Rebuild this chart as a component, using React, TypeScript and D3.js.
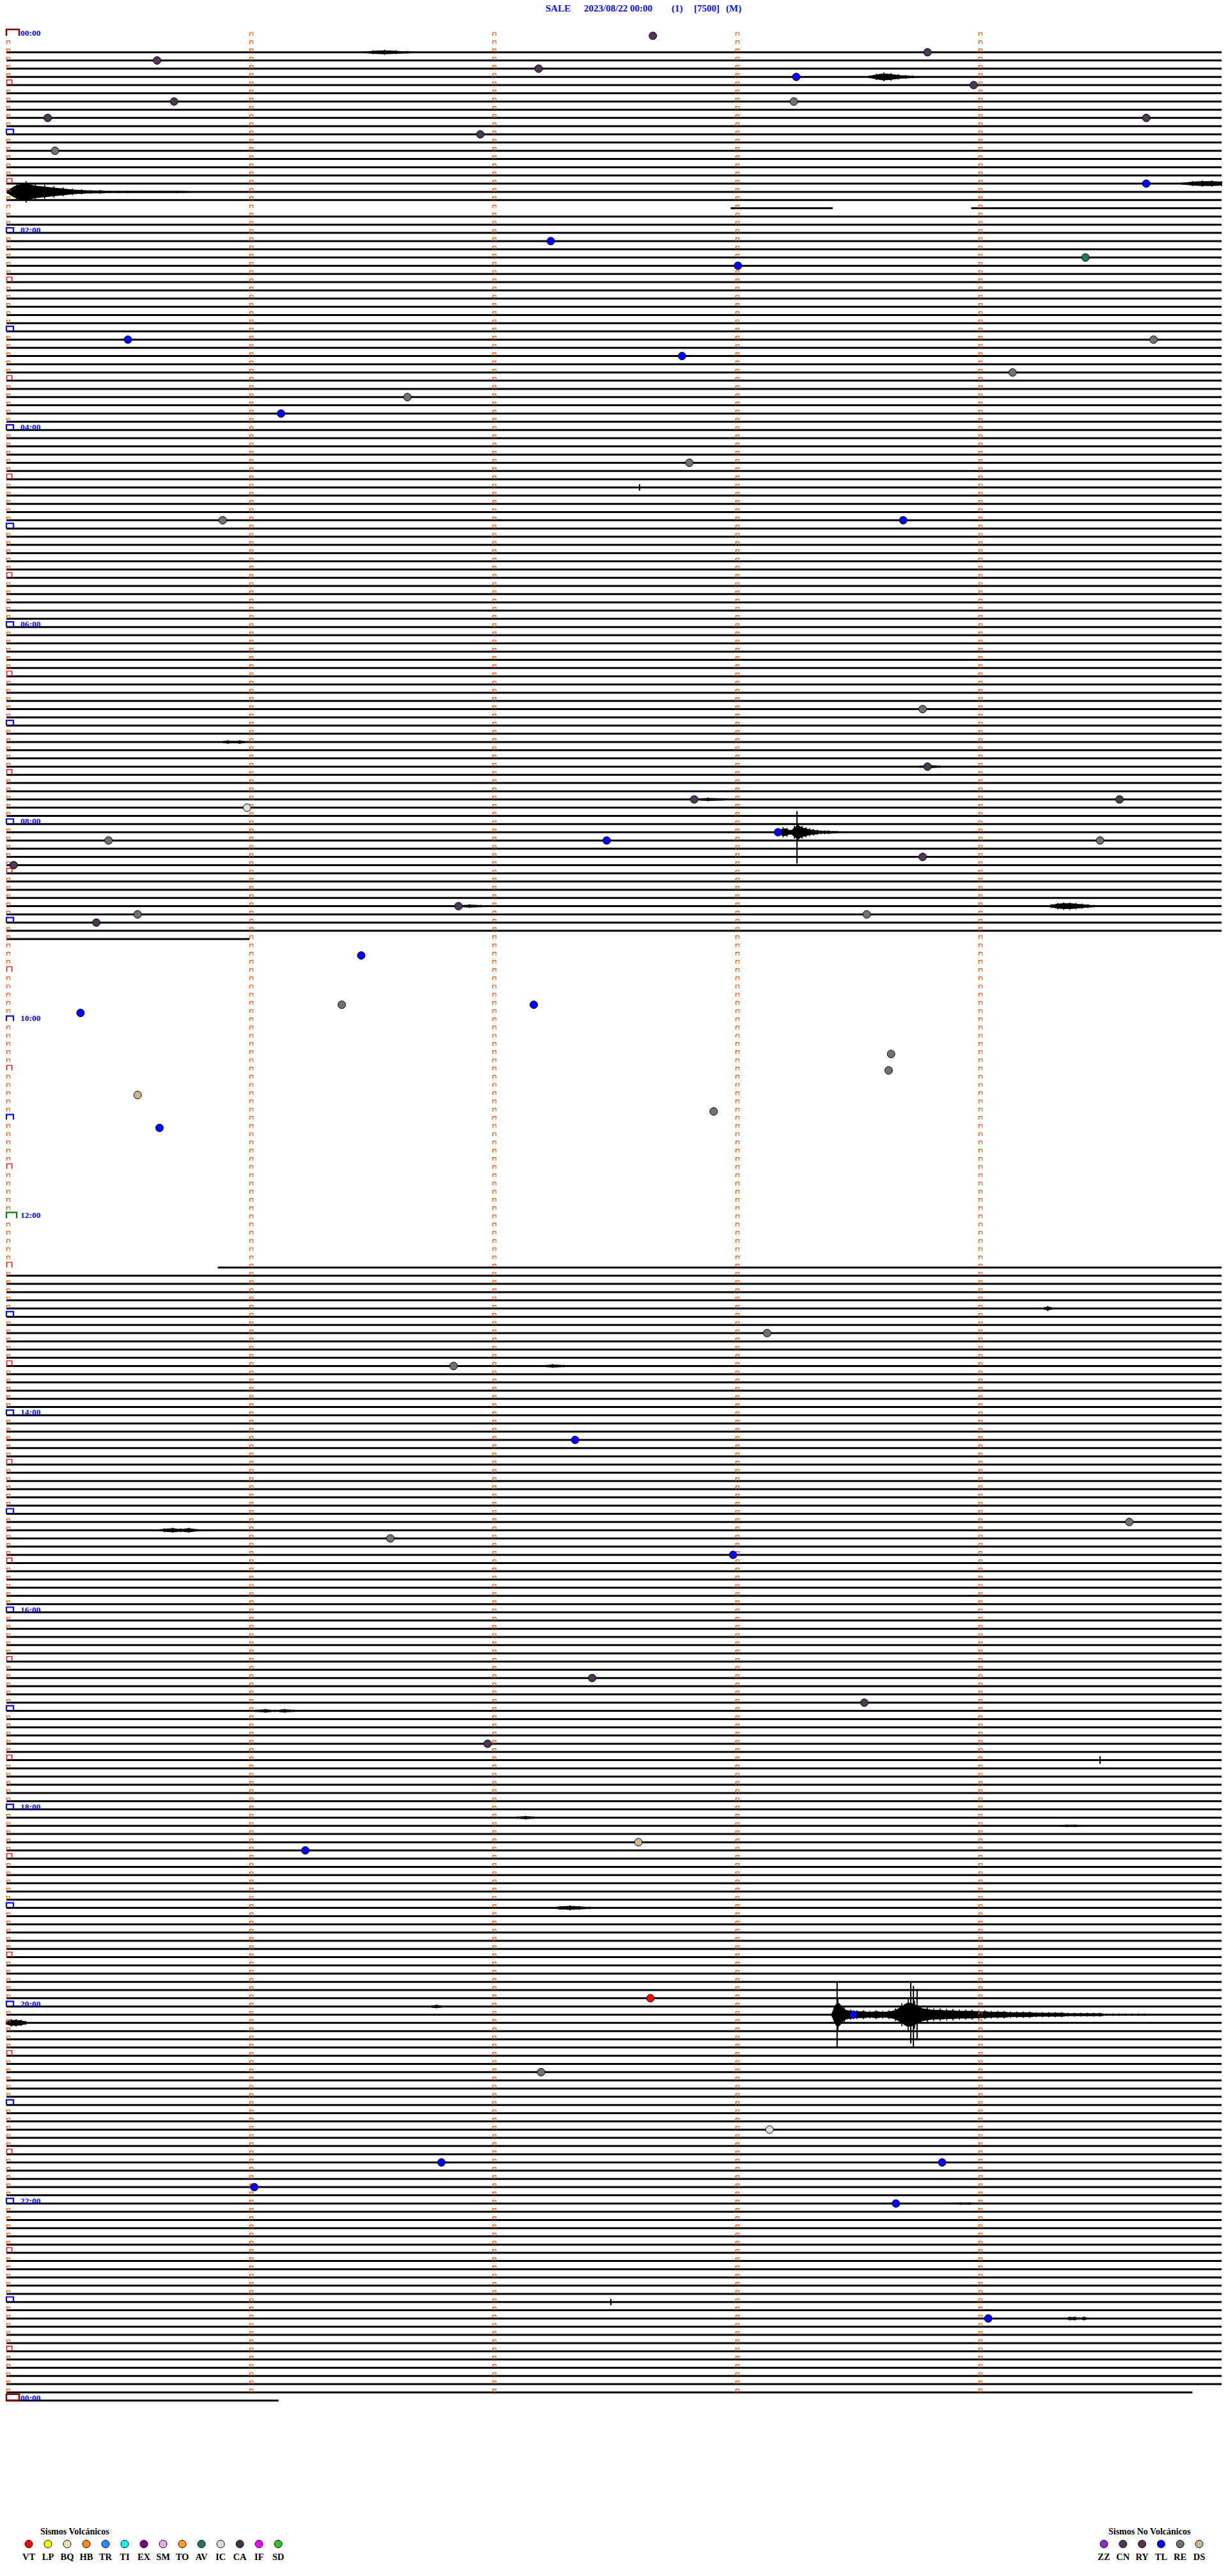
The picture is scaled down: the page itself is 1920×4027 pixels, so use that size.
import React from 'react';
import * as d3 from 'd3';

const W = 1920;
const H = 4027;

// ---- header ----
const titleParts: [string, number][] = [
  ['SALE', 853],
  ['2023/08/22 00:00', 913],
  ['(1)', 1050],
  ['[7500]', 1085],
  ['(M)', 1135],
];

// ---- time axis ----
const MINUTES_PER_LINE = 5;
const LINE_COUNT = 289; // 00:00 .. 24:00 in 5-minute rows
const minuteTicks = [0, 1, 2, 3, 4];
const hourLabels = ['00:00', '02:00', '04:00', '06:00', '08:00', '10:00', '12:00', '14:00', '16:00', '18:00', '20:00', '22:00', '00:00'];

// data availability, absolute minutes from 00:00
const dataSegments: [number, number][] = [
  [10, 105],
  [107.98, 108.4],
  [108.97, 551],
  [750.87, 1439.88],
  [1440, 1441.12],
];

// signal bursts: [row, startMinute, endMinute, envelope amplitudes (px)]
const bursts: [number, number, number, number[]][] = [
  [2, 1.46, 1.7, [1, 3, 4, 3, 2, 1]],
  [5, 3.55, 3.76, [2, 5, 7, 6, 4, 3, 2, 1]],
  [18, 4.84, 5.0, [2, 4, 5, 5, 4]],
  [19, 0.005, 0.5, [3, 14, 17, 13, 11, 9, 7, 5, 4, 3, 3, 2, 2, 2]],
  [19, 0.5, 1.0, [2, 2, 2, 1, 1, 1]],
  [86, 0.884, 0.987, [1, 3, 2, 3, 1]],
  [89, 3.76, 3.84, [2, 3, 2]],
  [93, 2.83, 3.0, [1, 3, 2, 1]],
  [97, 3.18, 3.43, [2, 8, 7, 4, 10, 14, 10, 8, 6, 5, 4, 3, 3, 3, 2, 2, 1]],
  [106, 4.276, 4.5, [1, 3, 5, 6, 6, 5, 4, 3, 2, 1]],
  [106, 1.858, 2.0, [1, 3, 2, 1]],
  [155, 4.27, 4.3, [2, 4, 2]],
  [162, 2.2, 2.34, [1, 3, 2, 1]],
  [182, 0.616, 0.818, [1, 3, 4, 3, 4, 2, 1]],
  [204, 0.987, 1.224, [1, 2, 3, 2, 3, 2, 1]],
  [217, 2.07, 2.17, [1, 2, 3, 2]],
  [218, 4.33, 4.43, [1, 2, 2, 1]],
  [228, 2.237, 2.44, [1, 3, 4, 3, 2, 1]],
  [240, 1.75, 1.79, [2, 3, 2]],
  [241, 3.395, 4.71, [2, 25, 12, 8, 7, 7, 6, 7, 6, 7, 10, 18, 25, 22, 14, 12, 10, 10, 9, 9, 8, 8, 8, 7, 7, 6, 6, 6, 5, 5, 5, 5, 4, 4, 4, 4, 4, 3, 3, 3, 3, 3, 3, 2, 2, 2, 2, 2, 2, 2, 1]],
  [242, 0.0, 0.08, [3, 6, 6, 5, 3]],
  [264, 3.89, 4.0, [1, 2, 2, 1]],
  [278, 4.355, 4.455, [1, 3, 3, 2, 3, 1]],
];

// single vertical spikes: [row, minute, up (px), down (px)]
const spikes: [number, number, number, number][] = [
  [55, 2.605, 5, 5],
  [97, 3.253, 33, 49],
  [210, 4.5, 6, 6],
  [241, 3.418, 50, 52],
  [241, 3.721, 52, 45],
  [241, 3.732, 45, 50],
  [241, 3.747, 40, 40],
  [276, 2.487, 5, 5],
];

// ---- legend ----
const volcanicTypes = ['VT', 'LP', 'BQ', 'HB', 'TR', 'TI', 'EX', 'SM', 'TO', 'AV', 'IC', 'CA', 'IF', 'SD'];
const volcanicColors = ['#ff0000', '#ffff00', '#f0e2a8', '#ff8a1a', '#2a8cff', '#00ffff', '#800080', '#f0a8e0', '#ffa020', '#1e7a5a', '#dcdcdc', '#4a2f4e', '#ff00ff', '#30c030'];
const nonVolcanicTypes = ['ZZ', 'CN', 'RY', 'TL', 'RE', 'DS'];
const nonVolcanicColors = ['#8a2be2', '#4e3656', '#5a3358', '#0000ff', '#6f736f', '#d2b48c'];

// ---- classified events: [row, minute, type] ----
const events: [number, number, string][] = [
  [0, 2.66, 'CN'], [3, 0.62, 'CN'], [2, 3.79, 'CN'], [4, 2.19, 'CN'], [5, 3.25, 'TL'],
  [6, 3.98, 'CN'], [8, 0.69, 'CN'], [8, 3.24, 'RE'], [10, 0.17, 'CN'], [10, 4.69, 'CN'],
  [12, 1.95, 'CN'], [14, 0.2, 'RE'], [18, 4.69, 'TL'], [25, 2.24, 'TL'], [28, 3.01, 'TL'],
  [27, 4.44, 'AV'], [37, 0.5, 'TL'], [37, 4.72, 'RE'], [39, 2.78, 'TL'], [41, 4.14, 'RE'],
  [44, 1.65, 'RE'], [46, 1.13, 'TL'], [52, 2.81, 'RE'], [59, 3.69, 'TL'], [59, 0.89, 'RE'],
  [82, 3.77, 'RE'], [89, 3.79, 'CN'], [94, 0.99, 'IC'], [93, 2.83, 'CN'], [93, 4.58, 'CN'],
  [98, 0.42, 'RE'], [98, 2.47, 'TL'], [97, 3.175, 'TL'], [98, 4.5, 'RE'], [100, 3.77, 'CN'],
  [101, 0.03, 'CN'], [106, 1.86, 'CN'], [107, 0.54, 'RE'], [107, 3.54, 'RE'], [108, 0.37, 'CN'],
  [112, 1.46, 'TL'], [118, 1.38, 'RE'], [118, 2.17, 'TL'], [119, 0.305, 'TL'], [124, 3.64, 'RE'],
  [126, 3.63, 'RE'], [129, 0.54, 'DS'], [131, 2.91, 'RE'], [133, 0.63, 'TL'], [158, 3.13, 'RE'],
  [162, 1.84, 'RE'], [171, 2.34, 'TL'], [181, 4.62, 'RE'], [183, 1.58, 'RE'], [185, 2.99, 'TL'],
  [200, 2.41, 'CN'], [203, 3.53, 'CN'], [208, 1.98, 'CN'], [220, 2.6, 'DS'], [221, 1.23, 'TL'],
  [239, 2.65, 'VT'], [241, 3.485, 'TL'], [248, 2.2, 'RE'], [255, 3.14, 'IC'], [259, 1.79, 'TL'],
  [259, 3.85, 'TL'], [262, 1.02, 'TL'], [264, 3.66, 'TL'], [278, 4.04, 'TL'],
];

const SERIF = '"Liberation Serif", "Times New Roman", serif';
const BLUE = '#0a0aff';
const ORANGE = '#ff5000';

export default function App() {
  const xs = d3.scaleLinear().domain([0, MINUTES_PER_LINE]).range([10, 1910]);
  const ys = d3.scaleLinear().domain([0, LINE_COUNT - 1]).range([56, 56 + (LINE_COUNT - 1) * 12.836]);

  const colorOf = new Map<string, string>();
  volcanicTypes.forEach((t, i) => colorOf.set(t, volcanicColors[i]));
  nonVolcanicTypes.forEach((t, i) => colorOf.set(t, nonVolcanicColors[i]));

  const rows = d3.range(LINE_COUNT);

  // trace pieces per row
  const tracePieces: { row: number; a: number; b: number }[] = [];
  rows.forEach((r) => {
    const t0 = r * MINUTES_PER_LINE;
    const t1 = t0 + MINUTES_PER_LINE;
    dataSegments.forEach(([s, e]) => {
      const a = Math.max(s, t0);
      const b = Math.min(e, t1);
      if (a < b) tracePieces.push({ row: r, a: a - t0, b: b - t0 });
    });
  });

  const bracket = (x0: number, x1: number, yb: number, h: number) =>
    `M${x0},${yb} V${yb - h} H${x1} V${yb}`;

  const markers: JSX.Element[] = [];
  rows.forEach((r) => {
    const y = ys(r);
    const last = r === LINE_COUNT - 1;
    minuteTicks.forEach((k) => {
      if (last && k > 0) return;
      const x = xs(k);
      if (k === 0 && r % 12 === 0) {
        if (r === 0) {
          markers.push(<path key={`m${r}-${k}`} d={bracket(x, x + 20, y, 10)} fill="none" stroke="#800000" strokeWidth={2.5} />);
        } else if (last) {
          markers.push(<rect key={`m${r}-${k}`} x={x} y={y - 10} width={20} height={10} fill="none" stroke="#800000" strokeWidth={2.5} />);
        } else if (r === 144) {
          markers.push(<path key={`m${r}-${k}`} d={bracket(x, x + 16, y, 9)} fill="none" stroke="#008000" strokeWidth={2.2} />);
        } else {
          markers.push(<path key={`m${r}-${k}`} d={bracket(x, x + 11, y, 8)} fill="none" stroke={BLUE} strokeWidth={2.2} />);
        }
      } else if (k === 0 && r % 12 === 6) {
        markers.push(<path key={`m${r}-${k}`} d={bracket(x + 0.5, x + 8.5, y, 8)} fill="none" stroke="#ff0000" strokeWidth={1.3} />);
      } else {
        markers.push(<path key={`m${r}-${k}`} d={bracket(x + 0.5, x + 5.5, y, 5)} fill="none" stroke={ORANGE} strokeWidth={1.2} />);
      }
    });
  });

  // bursts: a filled envelope core plus full-amplitude excursions at each sample
  const burstMarks = bursts.map(([r, m0, m1, env], i) => {
    const y = ys(r);
    const step = env.length > 1 ? (m1 - m0) / (env.length - 1) : 0;
    const gen = d3
      .area<number>()
      .x((_, j) => xs(m0 + j * step))
      .y0((a) => y + a * 0.75)
      .y1((a) => y - a * 0.75)
      .curve(d3.curveMonotoneX);
    return (
      <g key={`b${i}`}>
        <path d={gen(env) || ''} fill="#000" />
        {env.map((a, j) => (
          <line
            key={j}
            x1={xs(m0 + j * step)}
            x2={xs(m0 + j * step)}
            y1={y - a}
            y2={y + a}
            stroke="#000"
            strokeWidth={1.6}
          />
        ))}
      </g>
    );
  });

  const legendY = 3977;
  const volcanicX = d3.scaleLinear().domain([0, volcanicTypes.length - 1]).range([45, 435]);
  const nonVolcanicX = d3.scaleLinear().domain([0, nonVolcanicTypes.length - 1]).range([1726, 1875]);

  return (
    <svg
      width={W}
      height={H}
      viewBox={`0 0 ${W} ${H}`}
      style={{ position: 'absolute', left: 0, top: 0, background: '#fff' }}
    >
      <rect x={0} y={0} width={W} height={H} fill="#fff" />
      {/* title */}
      {titleParts.map(([t, x]) => (
        <text key={t} x={x} y={18} fontFamily={SERIF} fontWeight="bold" fontSize={15} fill={BLUE}>
          {t}
        </text>
      ))}

      {/* traces */}
      <g stroke="#000" strokeWidth={3} fill="none">
        {tracePieces.map((p, i) => (
          <line key={`t${i}`} x1={xs(p.a)} x2={xs(p.b)} y1={ys(p.row)} y2={ys(p.row)} />
        ))}
      </g>

      {/* bursts and spikes */}
      <g>{burstMarks}</g>
      <g stroke="#000" strokeWidth={2}>
        {spikes.map(([r, m, up, down], i) => (
          <line key={`s${i}`} x1={xs(m)} x2={xs(m)} y1={ys(r) - up} y2={ys(r) + down} />
        ))}
      </g>

      {/* minute markers */}
      <g>{markers}</g>

      {/* hour labels */}
      {hourLabels.map((lab, i) => (
        <text key={`h${i}`} x={32} y={ys(i * 24)} fontFamily={SERIF} fontWeight="bold" fontSize={13.5} fill={BLUE}>
          {lab}
        </text>
      ))}

      {/* events */}
      <g stroke="#000" strokeWidth={1}>
        {events.map(([r, m, t], i) => (
          <circle key={`e${i}`} cx={xs(m)} cy={ys(r)} r={6} fill={colorOf.get(t) || '#777'} />
        ))}
      </g>

      {/* legends */}
      <text x={63} y={3962} fontFamily={SERIF} fontWeight="bold" fontSize={14} fill="#000">
        Sismos Volcánicos
      </text>
      {volcanicTypes.map((t, i) => (
        <g key={`lv${t}`}>
          <circle cx={volcanicX(i)} cy={legendY} r={6} fill={volcanicColors[i]} stroke="#000" strokeWidth={1} />
          <text x={volcanicX(i)} y={4002} textAnchor="middle" fontFamily={SERIF} fontWeight="bold" fontSize={14.5} fill="#000">
            {t}
          </text>
        </g>
      ))}
      <text x={1733} y={3962} fontFamily={SERIF} fontWeight="bold" fontSize={14} fill="#000">
        Sismos No Volcánicos
      </text>
      {nonVolcanicTypes.map((t, i) => (
        <g key={`ln${t}`}>
          <circle cx={nonVolcanicX(i)} cy={legendY} r={6} fill={nonVolcanicColors[i]} stroke="#000" strokeWidth={1} />
          <text x={nonVolcanicX(i)} y={4002} textAnchor="middle" fontFamily={SERIF} fontWeight="bold" fontSize={14.5} fill="#000">
            {t}
          </text>
        </g>
      ))}
    </svg>
  );
}
